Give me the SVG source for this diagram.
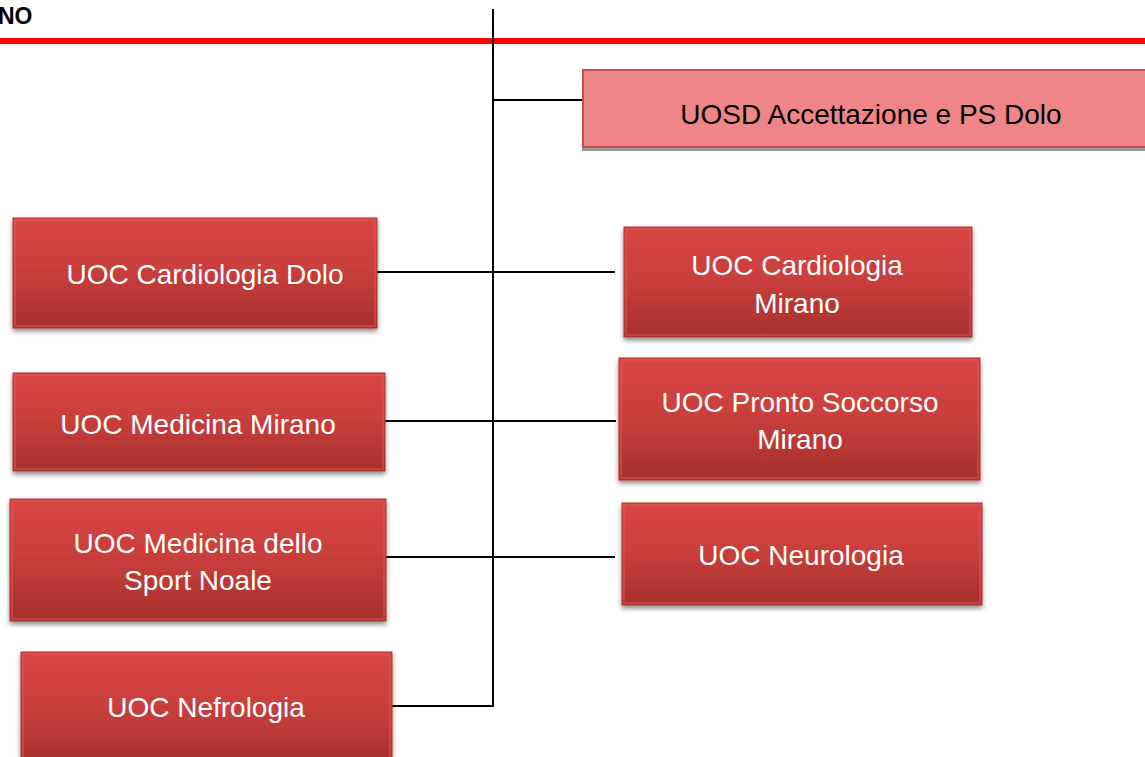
<svg xmlns="http://www.w3.org/2000/svg" width="1145" height="757" viewBox="0 0 1145 757">
<defs>
<linearGradient id="red" x1="0" y1="0" x2="0" y2="1">
<stop offset="0" stop-color="#d94744"/>
<stop offset="0.5" stop-color="#c73e3b"/>
<stop offset="1" stop-color="#a52f2d"/>
</linearGradient>
<filter id="sh" x="-10%" y="-10%" width="120%" height="130%">
<feDropShadow dx="0" dy="3" stdDeviation="2.5" flood-color="#000" flood-opacity="0.45"/>
</filter>
<filter id="sh2" x="-10%" y="-10%" width="120%" height="130%">
<feDropShadow dx="0" dy="3" stdDeviation="0.6" flood-color="#808080" flood-opacity="0.8"/>
</filter>
</defs>
<style>
.box{fill:url(#red);stroke:#b23533;stroke-width:1;filter:url(#sh)}
.bev{fill:none;stroke:#e55955;stroke-width:2;opacity:0.45}
.t{font-family:"Liberation Sans",Arial,sans-serif;font-size:28px;fill:#fff;text-anchor:middle}
.tb{font-family:"Liberation Sans",Arial,sans-serif;font-size:28px;fill:#000;text-anchor:middle}
.ln{stroke:#000;stroke-width:2;fill:none}
</style>
<text x="-2" y="24" font-family="Liberation Sans,Arial,sans-serif" font-size="23" font-weight="bold" fill="#000">NO</text>
<line x1="0" y1="41" x2="1145" y2="41" stroke="#ff0000" stroke-width="6"/>
<g id="connectors">
<line class="ln" x1="493" y1="9" x2="493" y2="706"/>
<line class="ln" x1="493" y1="100" x2="583" y2="100"/>
<line class="ln" x1="377" y1="272" x2="615" y2="272"/>
<line class="ln" x1="385" y1="421" x2="616" y2="421"/>
<line class="ln" x1="385" y1="557" x2="615" y2="557"/>
<line class="ln" x1="386" y1="706" x2="494" y2="706"/>
</g>
<g id="uosd">
<rect x="583" y="70" width="570" height="77" fill="#f08588" stroke="#c0504d" stroke-width="2" filter="url(#sh2)"/>
<text class="tb" x="871" y="124">UOSD Accettazione e PS Dolo</text>
</g>
<g id="cardio-dolo">
<rect class="box" x="13" y="218" width="364" height="110"/>
<rect class="bev" x="15" y="220" width="360" height="106"/>
<text class="t" x="205" y="284">UOC Cardiologia Dolo</text>
</g>
<g id="cardio-mirano">
<rect class="box" x="624" y="227" width="348" height="110"/>
<rect class="bev" x="626" y="229" width="344" height="106"/>
<text class="t" x="797" y="275">UOC Cardiologia</text>
<text class="t" x="797" y="313">Mirano</text>
</g>
<g id="medicina-mirano">
<rect class="box" x="13" y="373" width="372" height="98"/>
<rect class="bev" x="15" y="375" width="368" height="94"/>
<text class="t" x="198" y="434">UOC Medicina Mirano</text>
</g>
<g id="pronto-soccorso">
<rect class="box" x="619" y="358" width="361" height="122"/>
<rect class="bev" x="621" y="360" width="357" height="118"/>
<text class="t" x="800" y="412">UOC Pronto Soccorso</text>
<text class="t" x="800" y="449">Mirano</text>
</g>
<g id="medicina-sport">
<rect class="box" x="10" y="499" width="376" height="122"/>
<rect class="bev" x="12" y="501" width="372" height="118"/>
<text class="t" x="198" y="553">UOC Medicina dello</text>
<text class="t" x="198" y="590">Sport Noale</text>
</g>
<g id="neurologia">
<rect class="box" x="622" y="503" width="360" height="102"/>
<rect class="bev" x="624" y="505" width="356" height="98"/>
<text class="t" x="801" y="565">UOC Neurologia</text>
</g>
<g id="nefrologia">
<rect class="box" x="21" y="652" width="371" height="115"/>
<rect class="bev" x="23" y="654" width="367" height="111"/>
<text class="t" x="206" y="717">UOC Nefrologia</text>
</g>
</svg>
